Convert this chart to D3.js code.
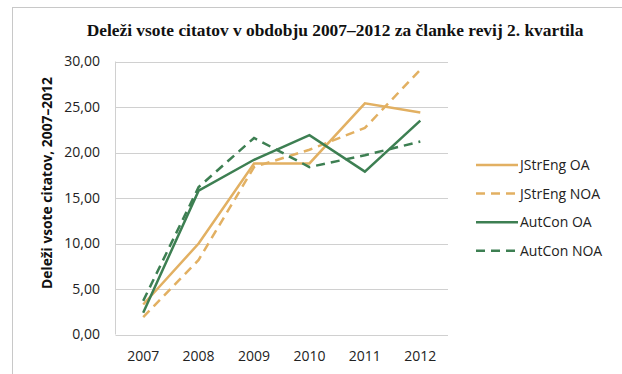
<!DOCTYPE html>
<html>
<head>
<meta charset="utf-8">
<script src="https://cdn.jsdelivr.net/npm/d3@7"></script>
<style>
  body { margin: 0; background: #fff; }
  svg { display: block; }
</style>
</head>
<body>
<div id="chart"></div>
<script>
var width = 622;
var height = 374;

// data
var years = ['2007', '2008', '2009', '2010', '2011', '2012'];
var seriesNames = ['JStrEng OA', 'JStrEng NOA', 'AutCon OA', 'AutCon NOA'];
var jstrengOA = [3.3, 10.0, 18.8, 18.8, 25.4, 24.4];
var jstrengNOA = [1.9, 8.2, 18.4, 20.3, 22.7, 29.1];
var autconOA = [2.4, 15.8, 19.2, 21.9, 17.9, 23.5];
var autconNOA = [3.7, 16.2, 21.6, 18.4, 19.7, 21.2];
var yTicks = [0, 5, 10, 15, 20, 25, 30];

var colors = ['#E2B062', '#E2B062', '#3D7F52', '#3D7F52'];
var dashed = [false, true, false, true];
var allSeries = [jstrengOA, jstrengNOA, autconOA, autconNOA];

var plotLeft = 115.5, plotRight = 448, plotTop = 61.5, plotBottom = 334.5;

var svg = d3.select('#chart')
    .append('svg')
    .attr('width', width)
    .attr('height', height);

// outer chart border
svg.append('rect')
    .attr('x', 12.5).attr('y', 7.5)
    .attr('width', 620).attr('height', 380)
    .attr('fill', 'none')
    .attr('stroke', '#c8c8c8')
    .attr('stroke-width', 1);

var x = d3.scaleBand()
    .domain(years)
    .range([plotLeft, plotRight]);

var y = d3.scaleLinear()
    .domain([0, 30])
    .range([plotBottom, plotTop]);

// gridlines
svg.append('g')
    .selectAll('line')
    .data(yTicks)
    .enter()
    .append('line')
    .attr('x1', plotLeft).attr('x2', plotRight)
    .attr('y1', function(d){ return Math.round(y(d)) + 0.5; })
    .attr('y2', function(d){ return Math.round(y(d)) + 0.5; })
    .attr('stroke', '#d0d0d0')
    .attr('stroke-width', 1);

// left axis line
svg.append('line')
    .attr('x1', plotLeft).attr('x2', plotLeft)
    .attr('y1', y(30)).attr('y2', y(0))
    .attr('stroke', '#d0d0d0');

// y tick labels
var fmt = function(d){ return d3.format('.2f')(d).replace('.', ','); };
svg.append('g')
    .selectAll('text')
    .data(yTicks)
    .enter()
    .append('text')
    .attr('x', 100)
    .attr('y', function(d){ return y(d); })
    .attr('dy', '0.35em')
    .attr('text-anchor', 'end')
    .attr('font-family', 'Open Sans, sans-serif')
    .attr('font-size', 14)
    .attr('fill', '#222')
    .text(fmt);

// x tick labels
svg.append('g')
    .selectAll('text')
    .data(years)
    .enter()
    .append('text')
    .attr('x', function(d){ return x(d) + x.bandwidth() / 2; })
    .attr('y', 356)
    .attr('dy', '0.35em')
    .attr('text-anchor', 'middle')
    .attr('font-family', 'Open Sans, sans-serif')
    .attr('font-size', 14)
    .attr('fill', '#222')
    .text(function(d){ return d; });

// y axis title
svg.append('text')
    .attr('transform', 'translate(47,183) rotate(-90)')
    .attr('text-anchor', 'middle')
    .attr('dy', '0.35em')
    .attr('font-family', 'Open Sans, sans-serif')
    .attr('font-weight', 'bold')
    .attr('font-size', 13.8)
    .attr('fill', '#111')
    .text('Deleži vsote citatov, 2007–2012');

// title
svg.append('text')
    .attr('x', 335)
    .attr('y', 36)
    .attr('text-anchor', 'middle')
    .attr('font-family', 'Liberation Serif, serif')
    .attr('font-weight', 'bold')
    .attr('font-size', 17.4)
    .attr('fill', '#111')
    .text('Deleži vsote citatov v obdobju 2007–2012 za članke revij 2. kvartila');

var line = d3.line()
    .x(function(d, i){ return x(years[i]) + x.bandwidth() / 2; })
    .y(function(d){ return y(d); });

svg.append('g')
    .selectAll('path')
    .data(allSeries)
    .enter()
    .append('path')
    .attr('d', line)
    .attr('fill', 'none')
    .attr('stroke', function(d, i){ return colors[i]; })
    .attr('stroke-width', 2.5)
    .attr('stroke-dasharray', function(d, i){ return dashed[i] ? '9,6' : null; });

// legend
var legend = svg.append('g')
    .selectAll('g')
    .data(seriesNames)
    .enter()
    .append('g')
    .attr('transform', function(d, i){ return 'translate(476,' + (165 + i * 28.6) + ')'; });

legend.append('line')
    .attr('x1', 0).attr('x2', 42)
    .attr('y1', 0).attr('y2', 0)
    .attr('stroke', function(d, i){ return colors[i]; })
    .attr('stroke-width', 2.5)
    .attr('stroke-dasharray', function(d, i){ return dashed[i] ? '9,6' : null; });

legend.append('text')
    .attr('x', 44)
    .attr('y', 0)
    .attr('dy', '0.35em')
    .attr('font-family', 'Open Sans, sans-serif')
    .attr('font-size', 14)
    .attr('fill', '#222')
    .text(function(d){ return d; });
</script>
</body>
</html>
